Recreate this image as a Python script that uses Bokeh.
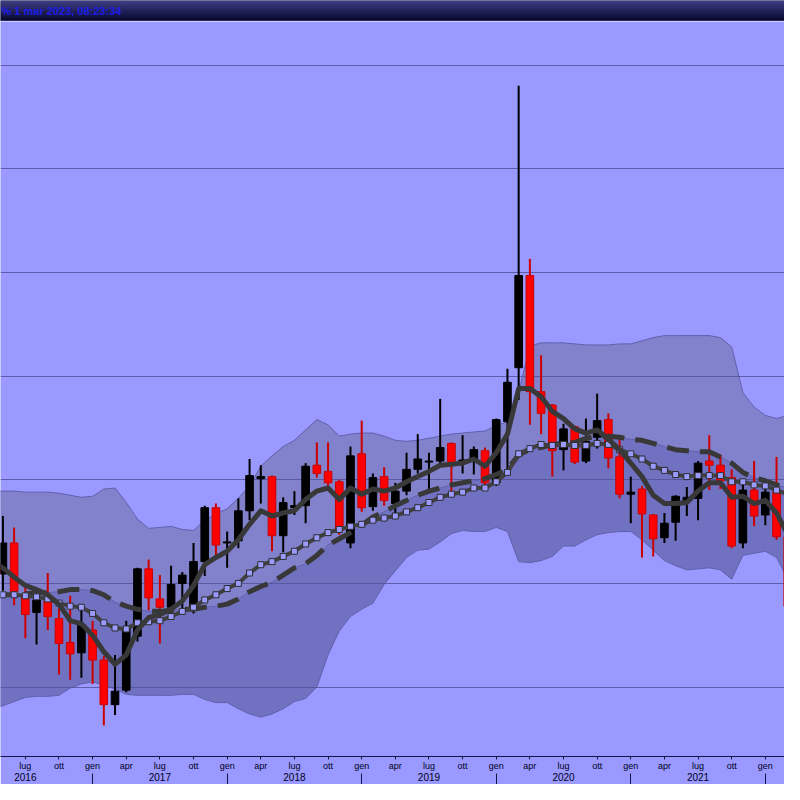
import numpy as np
import pandas as pd
from bokeh.plotting import figure
from bokeh.models import (FixedTicker, LinearAxis, Range1d, ColumnDataSource,
                          Grid, Label)
from bokeh.layouts import column
from bokeh.embed import file_html
from bokeh.resources import INLINE

# ---------------- data (monthly candles, Apr 2016 .. Mar 2022) ----------------
first_month = "2016-04-01"

open_ = [2.18, 2.09, 2.39, 1.89, 1.72, 1.83, 1.66, 1.43, 1.33, 1.55, 1.26, 0.83,
         0.97, 1.49, 2.14, 1.85, 1.77, 2.00, 1.74, 2.21, 2.73, 2.39, 2.41, 2.70,
         3.01, 3.03, 2.46, 2.73, 2.75, 3.14, 3.08, 2.98, 2.39, 3.25, 2.74, 3.03,
         2.77, 2.89, 3.10, 3.17, 3.18, 3.35, 3.18, 3.18, 3.28, 2.97, 3.56, 4.08,
         4.97, 3.85, 3.72, 3.29, 3.51, 3.18, 3.41, 3.58, 3.22, 2.86, 2.91, 2.66,
         2.44, 2.59, 2.80, 2.82, 3.18, 3.14, 3.02, 2.39, 2.90, 2.66, 2.88, 2.45]
high = [2.28, 2.65, 2.54, 1.96, 1.90, 2.10, 1.76, 1.88, 1.74, 1.64, 1.30, 1.31,
        1.64, 2.15, 2.23, 2.08, 2.17, 2.11, 2.39, 2.75, 2.77, 2.50, 2.82, 3.20,
        3.14, 3.04, 2.83, 2.89, 3.16, 3.36, 3.36, 3.00, 3.32, 3.57, 3.06, 3.12,
        2.97, 3.26, 3.44, 3.26, 3.78, 3.36, 3.43, 3.32, 3.31, 3.59, 4.07, 6.80,
        5.13, 4.20, 3.73, 3.54, 3.52, 3.59, 3.83, 3.64, 3.42, 3.03, 2.94, 2.67,
        2.68, 2.85, 2.93, 3.18, 3.43, 3.24, 3.10, 2.96, 3.18, 2.96, 3.22, 2.46]
low = [1.99, 1.93, 1.79, 1.47, 1.41, 1.55, 1.12, 1.07, 1.09, 1.03, 0.63, 0.73,
       0.95, 1.44, 1.74, 1.42, 1.68, 1.70, 1.71, 2.07, 2.27, 2.15, 2.34, 2.61,
       2.77, 2.31, 2.30, 2.66, 2.58, 3.02, 2.92, 2.47, 2.34, 2.69, 2.70, 2.75,
       2.67, 2.85, 3.06, 2.89, 3.15, 2.89, 3.06, 3.05, 2.94, 2.94, 3.10, 3.77,
       3.53, 3.44, 3.03, 3.09, 3.15, 3.16, 3.30, 3.11, 2.82, 2.58, 2.25, 2.26,
       2.39, 2.41, 2.65, 2.61, 2.90, 2.91, 2.34, 2.34, 2.55, 2.56, 2.42, 1.76]
close = [2.09, 2.39, 1.92, 1.70, 1.84, 1.68, 1.42, 1.32, 1.60, 1.26, 0.83, 0.96,
         1.57, 2.14, 1.86, 1.77, 1.99, 2.08, 2.21, 2.73, 2.37, 2.40, 2.70, 3.04,
         3.03, 2.46, 2.78, 2.75, 3.13, 3.06, 2.97, 2.51, 3.23, 2.73, 3.02, 2.80,
         2.89, 3.10, 3.20, 3.18, 3.31, 3.16, 3.19, 3.29, 2.97, 3.58, 3.94, 4.97,
         3.85, 3.64, 3.28, 3.49, 3.17, 3.37, 3.57, 3.21, 2.86, 2.88, 2.67, 2.43,
         2.58, 2.84, 2.83, 3.16, 3.14, 2.99, 2.36, 2.90, 2.65, 2.88, 2.45, 1.78]

ma_short = [2.21, 2.15, 2.06, 1.98, 1.94, 1.89, 1.80, 1.64, 1.61, 1.50, 1.34, 1.22,
            1.31, 1.55, 1.67, 1.70, 1.75, 1.83, 1.98, 2.18, 2.25, 2.31, 2.42, 2.57,
            2.70, 2.65, 2.68, 2.70, 2.81, 2.89, 2.92, 2.81, 2.92, 2.86, 2.91, 2.89,
            2.92, 2.98, 3.03, 3.08, 3.14, 3.15, 3.16, 3.20, 3.13, 3.26, 3.44, 3.88,
            3.88, 3.80, 3.66, 3.59, 3.49, 3.45, 3.48, 3.39, 3.29, 3.16, 3.03, 2.85,
            2.77, 2.77, 2.78, 2.89, 2.97, 2.97, 2.83, 2.84, 2.77, 2.80, 2.68, 2.47]
ma_mid = [1.89, 1.89, 1.89, 1.88, 1.87, 1.85, 1.81, 1.78, 1.77, 1.71, 1.62, 1.57,
          1.56, 1.62, 1.63, 1.64, 1.68, 1.73, 1.77, 1.84, 1.89, 1.95, 2.00, 2.10,
          2.18, 2.21, 2.26, 2.31, 2.38, 2.44, 2.49, 2.52, 2.55, 2.57, 2.61, 2.63,
          2.65, 2.69, 2.73, 2.78, 2.83, 2.86, 2.88, 2.92, 2.92, 2.98, 3.07, 3.25,
          3.30, 3.34, 3.33, 3.34, 3.33, 3.33, 3.35, 3.34, 3.29, 3.25, 3.20, 3.13,
          3.09, 3.05, 3.03, 3.04, 3.04, 3.04, 2.98, 2.98, 2.95, 2.94, 2.90, 2.86]
ma_long = [1.89, 1.89, 1.89, 1.90, 1.91, 1.91, 1.92, 1.94, 1.94, 1.93, 1.89, 1.82,
           1.78, 1.75, 1.73, 1.73, 1.74, 1.75, 1.75, 1.77, 1.78, 1.80, 1.85, 1.92,
           1.97, 2.01, 2.08, 2.15, 2.19, 2.27, 2.37, 2.43, 2.49, 2.56, 2.64, 2.69,
           2.75, 2.80, 2.85, 2.89, 2.92, 2.95, 2.97, 2.99, 3.01, 3.05, 3.10, 3.24,
           3.29, 3.31, 3.34, 3.35, 3.36, 3.40, 3.42, 3.42, 3.41, 3.39, 3.38, 3.35,
           3.32, 3.29, 3.28, 3.27, 3.27, 3.22, 3.16, 3.07, 3.02, 2.99, 2.95, 2.92]
band_up = [2.89, 2.89, 2.89, 2.88, 2.88, 2.88, 2.87, 2.85, 2.83, 2.84, 2.91, 2.92,
           2.78, 2.62, 2.53, 2.54, 2.55, 2.52, 2.51, 2.61, 2.67, 2.72, 2.82, 2.94,
           3.13, 3.23, 3.32, 3.38, 3.48, 3.58, 3.53, 3.42, 3.44, 3.45, 3.45, 3.42,
           3.38, 3.37, 3.38, 3.40, 3.42, 3.44, 3.45, 3.46, 3.47, 3.52, 3.56, 3.84,
           4.29, 4.32, 4.32, 4.32, 4.31, 4.30, 4.30, 4.30, 4.31, 4.31, 4.34, 4.37,
           4.39, 4.39, 4.39, 4.39, 4.39, 4.37, 4.28, 3.84, 3.70, 3.62, 3.59, 3.62]
band_low = [0.79, 0.82, 0.86, 0.90, 0.91, 0.91, 0.92, 0.99, 1.03, 1.05, 1.02, 0.98,
            0.93, 0.92, 0.92, 0.92, 0.92, 0.93, 0.93, 0.88, 0.85, 0.85, 0.79, 0.74,
            0.71, 0.74, 0.79, 0.86, 0.89, 1.00, 1.31, 1.54, 1.68, 1.75, 1.81, 1.99,
            2.12, 2.25, 2.32, 2.33, 2.40, 2.48, 2.51, 2.50, 2.50, 2.54, 2.50, 2.21,
            2.20, 2.22, 2.26, 2.36, 2.36, 2.42, 2.47, 2.49, 2.50, 2.50, 2.42, 2.32,
            2.22, 2.17, 2.13, 2.14, 2.15, 2.13, 2.04, 2.27, 2.29, 2.31, 2.25, 2.04]

month_names = ["gen", "apr", "lug", "ott"]          # quarter tick labels
years = [2016, 2017, 2018, 2019, 2020, 2021, 2022]
price_grid = [1, 2, 3, 4, 5, 6, 7]
header_text = "% 1 mar 2023, 08:23:34"

# ---------------- derived ----------------
dates = pd.date_range(first_month, periods=len(close), freq="MS")
base_year = years[0]
mi = np.array([(d.year - base_year) * 12 + (d.month - 1) for d in dates], dtype=float)

o = np.array(open_); c = np.array(close); h = np.array(high); l = np.array(low)
up = c >= o
src = ColumnDataSource(dict(
    x=mi, top=np.maximum(o, c), bottom=np.minimum(o, c), high=h, low=l,
    fill=np.where(up, "#000000", "#ff0000"),
    edge=np.where(up, "#000000", "#c80000"),
    wick=np.where(up, "#000000", "#cc0000"),
))

BG = "#9999ff"
W = 784
HEAD_H = 21
MAIN_H = 763

# ---------------- header bar ----------------
hdr = figure(width=W, height=HEAD_H, x_range=Range1d(0, W), y_range=Range1d(0, HEAD_H),
             output_backend="svg", toolbar_location=None,
             x_axis_type=None, y_axis_type=None,
             min_border=0, min_border_left=0, min_border_right=0,
             min_border_top=0, min_border_bottom=0)
hdr.outline_line_color = None
hdr.background_fill_color = "#101040"
hdr.border_fill_color = "#101040"
n = HEAD_H
rgba = np.zeros((n, 1, 4), dtype=np.uint8)
top_col = np.array([62, 62, 132]); bot_col = np.array([6, 6, 44])
for r in range(n):
    t = r / (n - 1)          # r = 0 is bottom row
    col = bot_col * (1 - t) + top_col * t
    rgba[r, 0, :3] = col.astype(np.uint8)
    rgba[r, 0, 3] = 255
rgba[0, 0, :3] = [70, 70, 140]
img = rgba.view(dtype=np.uint32).reshape((n, 1))
hdr.image_rgba(image=[img], x=0, y=0, dw=W, dh=HEAD_H)
hdr.add_layout(Label(x=1, y=10.5, x_units="data", y_units="data",
                     text=header_text, text_font="Liberation Sans",
                     text_font_style="bold", text_font_size="11px",
                     text_color="#1e1ee6", text_baseline="middle"))

# ---------------- main chart ----------------
p = figure(width=W, height=MAIN_H,
           x_range=Range1d(3.785, 73.71), y_range=Range1d(0.33, 7.42),
           output_backend="svg", toolbar_location=None,
           x_axis_type=None, y_axis_type=None,
           min_border_left=0, min_border_right=0, min_border_top=0,
           min_border_bottom=28)
p.background_fill_color = BG
p.border_fill_color = BG
p.outline_line_color = None

# bands
p.varea(x=mi, y1=ma_long, y2=band_up, fill_color="#8282cc", level="image")
p.varea(x=mi, y1=band_low, y2=ma_long, fill_color="#7171c2", level="image")
for s in (band_up, band_low, ma_long):
    p.line(mi, s, line_color="#6060ac", line_width=1, level="image")

p.add_layout(Grid(dimension=1, ticker=FixedTicker(ticks=price_grid),
                  grid_line_color="#52529a", grid_line_alpha=0.85))

# candles
p.segment(x0="x", y0="high", x1="x", y1="low", source=src,
          line_color="wick", line_width=2)
p.vbar(x="x", width=0.68, top="top", bottom="bottom", source=src,
       fill_color="fill", line_color="edge", line_width=1)

# moving averages
p.line(mi, ma_long, line_color="#383838", line_width=5, line_dash="22 11")
p.line(mi, ma_mid, line_color="#404040", line_width=4, line_join="round")
p.scatter(mi, ma_mid, marker="square", size=6, fill_color="#9a9aff",
          line_color="#2e2e2e", line_width=1)
p.line(mi, ma_short, line_color="#383838", line_width=5, line_join="round",
       line_cap="round")

# axes
q_ticks = list(range(0, (len(years)) * 12 + 1, 3))
q_over = {t: month_names[(t % 12) // 3] for t in q_ticks}
ax_m = LinearAxis(ticker=FixedTicker(ticks=q_ticks, minor_ticks=[]),
                  major_label_overrides=q_over,
                  axis_line_color="#14144a", axis_line_width=1,
                  major_tick_line_color="#14144a", major_tick_in=0, major_tick_out=3,
                  minor_tick_line_color=None,
                  major_label_standoff=1,
                  major_label_text_font="Liberation Sans",
                  major_label_text_font_size="9px",
                  major_label_text_color="#000020")
y_mid = [(y - base_year) * 12 + 6 for y in years]
y_sep = [(y - base_year) * 12 for y in years]
y_over = {(y - base_year) * 12 + 6: str(y) for y in years}
ax_y = LinearAxis(ticker=FixedTicker(ticks=y_mid, minor_ticks=y_sep),
                  major_label_overrides=y_over,
                  axis_line_color=None,
                  major_tick_line_color=None, major_tick_in=0, major_tick_out=0,
                  minor_tick_line_color="#14144a", minor_tick_in=0, minor_tick_out=11,
                  major_label_standoff=-12,
                  major_label_text_font="Liberation Sans",
                  major_label_text_font_size="10px",
                  major_label_text_color="#000020")
p.add_layout(ax_m, "below")
p.add_layout(ax_y, "below")

layout = column(hdr, p, spacing=0)
open("out.html", "w").write(file_html(layout, INLINE))
